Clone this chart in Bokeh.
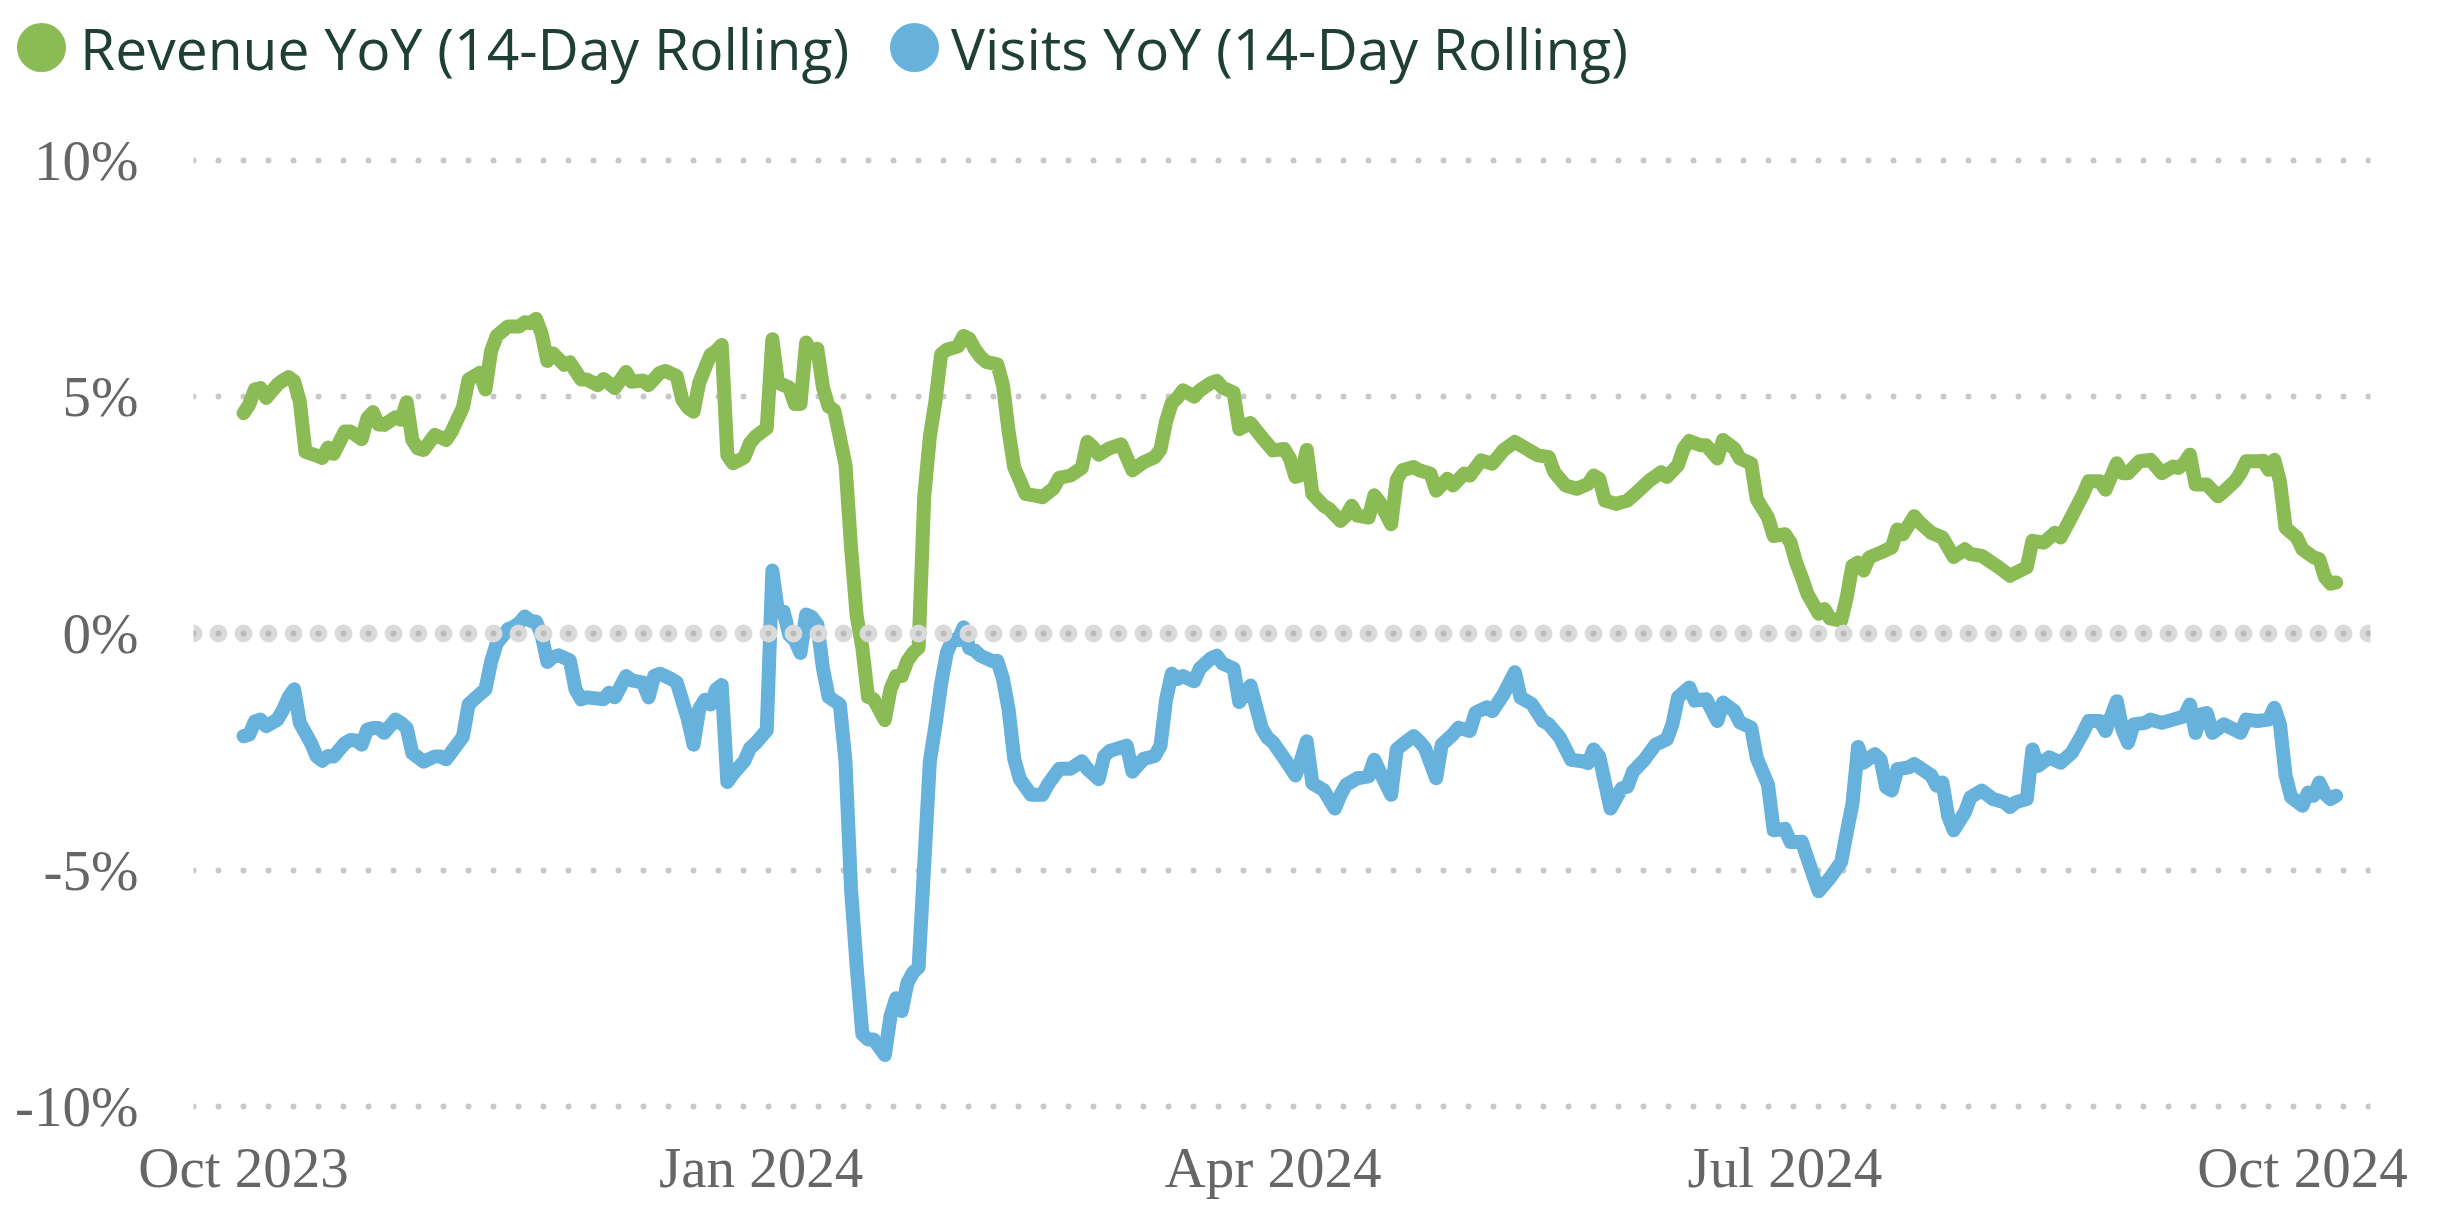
import pandas as pd
from bokeh.plotting import figure
from bokeh.models import Range1d, FixedTicker, PrintfTickFormatter, DatetimeTickFormatter, Span, Div
from bokeh.layouts import column
from bokeh.embed import file_html
from bokeh.resources import INLINE

# ---------------- data ----------------
START = pd.Timestamp("2023-10-01")  # day 0

revenue_days = [0, 1, 2, 3, 4, 6, 7, 8, 9, 10, 11, 13, 14, 15, 16, 18, 19, 21, 22, 23, 24, 25, 27, 28, 29, 30,
                31, 32, 34, 36, 37, 39, 40, 42, 43, 44, 45, 47, 49, 50, 51, 52, 53, 54, 55, 57, 58, 60, 61, 63,
                64, 66, 68, 69, 71, 72, 74, 75, 77, 78, 79, 80, 81, 82, 83, 84, 85, 86, 87, 89, 90, 91, 93, 94,
                95, 97, 98, 99, 100, 101, 102, 103, 104, 105, 107, 108, 109, 110, 111, 112, 114, 115, 116, 117,
                118, 119, 120, 121, 122, 123, 124, 125, 127, 128, 129, 130, 131, 132, 134, 135, 136, 137, 138,
                139, 141, 142, 144, 145, 147, 149, 150, 151, 152, 154, 156, 158, 160, 162, 163, 164, 165, 166,
                167, 169, 170, 172, 173, 174, 176, 177, 179, 181, 183, 185, 186, 187, 188, 189, 190, 192, 193,
                195, 196, 197, 198, 200, 201, 202, 204, 205, 206, 208, 209, 211, 212, 214, 215, 217, 218, 220,
                222, 224, 226, 228, 230, 232, 233, 235, 237, 239, 240, 241, 242, 244, 246, 248, 250, 252, 253,
                255, 256, 257, 259, 260, 262, 263, 265, 266, 268, 269, 271, 272, 274, 275, 276, 277, 278, 280,
                281, 282, 284, 285, 286, 287, 288, 289, 291, 293, 294, 295, 297, 298, 300, 302, 304, 306, 307,
                309, 312, 314, 317, 318, 320, 322, 323, 325, 327, 328, 330, 331, 333, 334, 335, 337, 339, 341,
                343, 344, 345, 346, 347, 349, 351, 352, 354, 355, 356, 358, 359, 360, 361, 362, 363, 364, 365,
                366, 368, 369, 370, 371, 372]
revenue_yoy = [4.66, 4.84, 5.16, 5.19, 4.98, 5.26, 5.35, 5.42, 5.33, 4.9, 3.84, 3.76, 3.71, 3.93, 3.8, 4.27,
               4.27, 4.11, 4.55, 4.68, 4.42, 4.41, 4.57, 4.52, 4.89, 4.09, 3.91, 3.88, 4.2, 4.09, 4.27, 4.78,
               5.37, 5.51, 5.16, 5.97, 6.29, 6.49, 6.49, 6.58, 6.56, 6.65, 6.33, 5.76, 5.92, 5.68, 5.73, 5.37,
               5.37, 5.25, 5.38, 5.19, 5.53, 5.32, 5.35, 5.25, 5.51, 5.55, 5.44, 4.94, 4.77, 4.69, 5.3, 5.6,
               5.89, 5.97, 6.1, 3.77, 3.6, 3.72, 4.02, 4.16, 4.34, 6.22, 5.3, 5.2, 4.85, 4.85, 6.15, 5.93, 6.02,
               5.2, 4.8, 4.72, 3.57, 1.8, 0.36, -0.3, -1.34, -1.39, -1.83, -1.18, -0.9, -0.9, -0.58, -0.41,
               -0.3, 2.9, 4.16, 4.92, 5.9, 6.0, 6.07, 6.29, 6.23, 6.01, 5.85, 5.74, 5.69, 5.25, 4.27, 3.51,
               3.24, 2.95, 2.91, 2.88, 3.07, 3.29, 3.34, 3.5, 4.05, 3.94, 3.78, 3.92, 4.0, 3.45, 3.62, 3.73,
               3.89, 4.49, 4.87, 4.98, 5.14, 5.01, 5.14, 5.3, 5.34, 5.2, 5.09, 4.32, 4.45, 4.15, 3.87, 3.9,
               3.7, 3.31, 3.35, 3.88, 2.95, 2.7, 2.63, 2.38, 2.49, 2.7, 2.49, 2.45, 2.92, 2.77, 2.31, 3.25,
               3.45, 3.52, 3.45, 3.38, 3.02, 3.27, 3.13, 3.38, 3.34, 3.66, 3.59, 3.88, 4.05, 3.91, 3.77, 3.73,
               3.41, 3.13, 3.06, 3.16, 3.34, 3.27, 2.81, 2.74, 2.81, 3.02, 3.24, 3.41, 3.31, 3.56, 3.91, 4.07,
               3.98, 3.98, 3.7, 4.09, 3.91, 3.7, 3.59, 2.84, 2.45, 2.06, 2.1, 1.92, 1.5, 1.19, 0.84, 0.42,
               0.52, 0.32, 0.27, 0.77, 1.43, 1.5, 1.33, 1.61, 1.71, 1.82, 2.2, 2.1, 2.48, 2.34, 2.13, 2.03,
               1.62, 1.78, 1.68, 1.64, 1.4, 1.22, 1.4, 1.96, 1.92, 2.13, 2.03, 2.48, 2.94, 3.22, 3.22, 3.04,
               3.6, 3.39, 3.39, 3.64, 3.67, 3.39, 3.53, 3.5, 3.6, 3.78, 3.15, 3.15, 2.9, 3.0, 3.22, 3.39, 3.64,
               3.64, 3.65, 3.46, 3.67, 3.22, 2.24, 2.13, 2.03, 1.78, 1.61, 1.57, 1.19, 1.05, 1.08]

visits_days = [0, 1, 2, 3, 4, 6, 7, 8, 9, 10, 12, 13, 14, 15, 16, 18, 19, 20, 21, 22, 23, 24, 25, 26, 27, 28,
               29, 30, 32, 34, 35, 36, 37, 39, 40, 42, 43, 44, 45, 47, 48, 49, 50, 51, 52, 53, 54, 55, 56, 58,
               59, 60, 61, 64, 65, 66, 68, 69, 71, 72, 73, 74, 76, 77, 79, 80, 81, 82, 83, 84, 85, 86, 87, 89,
               90, 91, 93, 94, 95, 96, 97, 98, 99, 100, 101, 102, 103, 104, 106, 107, 108, 109, 110, 111, 112,
               114, 115, 116, 117, 118, 119, 120, 121, 122, 123, 124, 125, 126, 127, 128, 129, 130, 131, 133,
               134, 135, 136, 137, 138, 140, 141, 142, 143, 145, 147, 149, 150, 152, 153, 154, 157, 158, 160,
               162, 163, 164, 165, 166, 167, 169, 170, 172, 173, 174, 176, 177, 179, 181, 182, 183, 185, 187,
               188, 189, 190, 192, 194, 195, 196, 198, 200, 201, 202, 204, 205, 206, 208, 209, 210, 212, 213,
               215, 216, 218, 219, 221, 222, 224, 226, 227, 229, 231, 232, 234, 236, 238, 239, 240, 241, 243,
               245, 246, 247, 249, 251, 253, 254, 255, 257, 258, 260, 262, 263, 265, 266, 268, 269, 271, 272,
               274, 275, 277, 278, 280, 282, 284, 285, 286, 287, 288, 290, 291, 292, 293, 294, 296, 297, 300,
               301, 302, 303, 304, 306, 307, 309, 311, 313, 314, 315, 317, 318, 319, 321, 323, 325, 327, 328,
               330, 331, 333, 334, 335, 336, 338, 339, 341, 343, 345, 346, 347, 348, 349, 350, 352, 355, 356,
               358, 360, 361, 362, 363, 364, 366, 367, 368, 369, 370, 371, 372]
visits_yoy = [-2.17, -2.14, -1.86, -1.82, -1.96, -1.82, -1.62, -1.35, -1.18, -1.89, -2.32, -2.6, -2.69, -2.59,
              -2.6, -2.32, -2.25, -2.26, -2.35, -2.03, -2.0, -2.0, -2.1, -1.96, -1.82, -1.89, -2.0, -2.53,
              -2.71, -2.6, -2.6, -2.66, -2.5, -2.18, -1.5, -1.28, -1.18, -0.6, -0.21, 0.09, 0.14, 0.22, 0.36,
              0.27, 0.25, -0.04, -0.6, -0.5, -0.46, -0.57, -1.18, -1.39, -1.35, -1.39, -1.25, -1.35, -0.9,
              -0.99, -1.04, -1.35, -0.9, -0.85, -0.96, -1.03, -1.82, -2.35, -1.6, -1.4, -1.5, -1.18, -1.09,
              -3.14, -2.97, -2.7, -2.43, -2.32, -2.05, 1.33, 0.46, 0.46, -0.03, -0.14, -0.41, 0.4, 0.35, 0.19,
              -0.74, -1.34, -1.5, -2.7, -5.42, -7.06, -8.47, -8.58, -8.58, -8.91, -8.09, -7.71, -7.98, -7.39,
              -7.17, -7.06, -4.88, -2.7, -1.94, -1.07, -0.41, -0.14, -0.14, 0.13, -0.31, -0.36, -0.47, -0.58,
              -0.58, -0.96, -1.61, -2.65, -3.08, -3.41, -3.41, -3.41, -3.19, -2.86, -2.86, -2.7, -2.86, -3.08,
              -2.59, -2.48, -2.37, -2.92, -2.65, -2.59, -2.37, -1.39, -0.85, -0.96, -0.9, -1.01, -0.74, -0.52,
              -0.47, -0.63, -0.74, -1.45, -1.1, -2.0, -2.2, -2.3, -2.64, -3.0, -2.67, -2.28, -3.17, -3.31,
              -3.7, -3.41, -3.2, -3.06, -3.02, -2.67, -2.92, -3.41, -2.45, -2.35, -2.17, -2.28, -2.42, -3.06,
              -2.35, -2.13, -1.99, -2.06, -1.67, -1.56, -1.64, -1.28, -0.82, -1.35, -1.49, -1.85, -1.92, -2.2,
              -2.67, -2.7, -2.74, -2.45, -2.6, -3.7, -3.27, -3.24, -2.92, -2.67, -2.35, -2.24, -1.92, -1.35,
              -1.14, -1.42, -1.39, -1.85, -1.46, -1.64, -1.88, -1.99, -2.63, -3.2, -4.16, -4.13, -4.41, -4.4,
              -4.75, -5.45, -5.17, -4.83, -4.2, -3.6, -2.4, -2.73, -2.55, -2.66, -3.25, -3.32, -2.87, -2.83,
              -2.76, -3.0, -3.22, -3.15, -3.85, -4.16, -3.78, -3.46, -3.32, -3.5, -3.57, -3.67, -3.57, -3.5,
              -2.45, -2.8, -2.62, -2.73, -2.52, -2.1, -1.85, -1.85, -2.06, -1.43, -2.03, -2.31, -1.92, -1.89,
              -1.82, -1.89, -1.82, -1.75, -1.5, -2.1, -1.71, -1.68, -2.1, -1.92, -2.1, -1.82, -1.85, -1.82,
              -1.57, -1.92, -3.0, -3.46, -3.64, -3.36, -3.43, -3.15, -3.39, -3.5, -3.43]

series_labels = ["Revenue YoY (14-Day Rolling)", "Visits YoY (14-Day Rolling)"]
y_ticks = [-10, -5, 0, 5, 10]
grid_ticks = [-10, -5, 5, 10]
x_tick_dates = ["2023-10-01", "2024-01-01", "2024-04-01", "2024-07-01", "2024-10-01"]

GREEN = "#8BBB55"
BLUE = "#66B2DC"
LABEL_GREY = "#666666"
LEGEND_TEXT = "#1E3F32"
series_colors = [GREEN, BLUE]


def ms(ts):
    return pd.Timestamp(ts).timestamp() * 1000.0


def to_dates(days):
    return [START + pd.Timedelta(days=d) for d in days]


# ---------------- legend strip (HTML) ----------------
item_lefts = [17, 890]      # circle left edge (px)
text_lefts = [80, 951]      # label left edge (px)
parts = []
for lbl, col, cl, tl in zip(series_labels, series_colors, item_lefts, text_lefts):
    parts.append(
        f'<span style="position:absolute;left:{cl}px;top:23px;width:49px;height:49px;'
        f'border-radius:50%;background:{col};"></span>'
        f'<span style="position:absolute;left:{tl}px;top:20px;line-height:57px;white-space:nowrap;'
        f'font-family:\'Open Sans\';font-size:57px;color:{LEGEND_TEXT};">{lbl}</span>'
    )
legend_html = ('<div style="position:relative;width:2440px;height:100px;margin:0;padding:0;">'
               + "".join(parts) + "</div>")
legend_div = Div(text=legend_html, width=2440, height=100, margin=0)

# ---------------- main chart ----------------
p = figure(width=2440, height=1128, x_axis_type="datetime", output_backend="svg",
           toolbar_location=None,
           x_range=Range1d(ms(START) - 8.9 * 86400000, ms(START) + 378.1 * 86400000),
           y_range=Range1d(-10.21, 10.21),
           min_border_left=193, min_border_right=70, min_border_top=50, min_border_bottom=112)
p.outline_line_color = None
p.xgrid.visible = False

p.ygrid.ticker = FixedTicker(ticks=grid_ticks)
p.ygrid.grid_line_color = "#C8C8C8"
p.ygrid.grid_line_width = 6
p.ygrid.grid_line_dash = "0 25"
p.ygrid.grid_line_cap = "round"

p.add_layout(Span(location=0, dimension="width", line_color="#DADADA", line_width=18,
                  line_dash="0 25", line_cap="round"))
p.add_layout(Span(location=0, dimension="width", line_color="#BBBBBB", line_width=6,
                  line_dash="0 25", line_cap="round"))

p.line(to_dates(revenue_days), revenue_yoy, line_color=GREEN, line_width=14,
       line_join="round", line_cap="round")
p.line(to_dates(visits_days), visits_yoy, line_color=BLUE, line_width=14,
       line_join="round", line_cap="round")

fmt = "%b %Y"
p.xaxis.ticker = FixedTicker(ticks=[ms(d) for d in x_tick_dates])
p.xaxis.formatter = DatetimeTickFormatter(microseconds=fmt, milliseconds=fmt, seconds=fmt, minsec=fmt,
                                          minutes=fmt, hourmin=fmt, hours=fmt, days=fmt, months=fmt,
                                          years=fmt)
p.yaxis.ticker = FixedTicker(ticks=y_ticks)
p.yaxis.formatter = PrintfTickFormatter(format="%d%%")

for ax in (p.xaxis, p.yaxis):
    ax.axis_line_color = None
    ax.major_tick_line_color = None
    ax.minor_tick_line_color = None
    ax.major_tick_out = 0
    ax.major_tick_in = 0
    ax.major_label_text_font = "Liberation Serif"
    ax.major_label_text_font_size = "57px"
    ax.major_label_text_color = LABEL_GREY
p.xaxis.major_label_standoff = 19
p.yaxis.major_label_standoff = 55

layout = column(legend_div, p, spacing=0)
open("out.html", "w").write(file_html(layout, INLINE))
